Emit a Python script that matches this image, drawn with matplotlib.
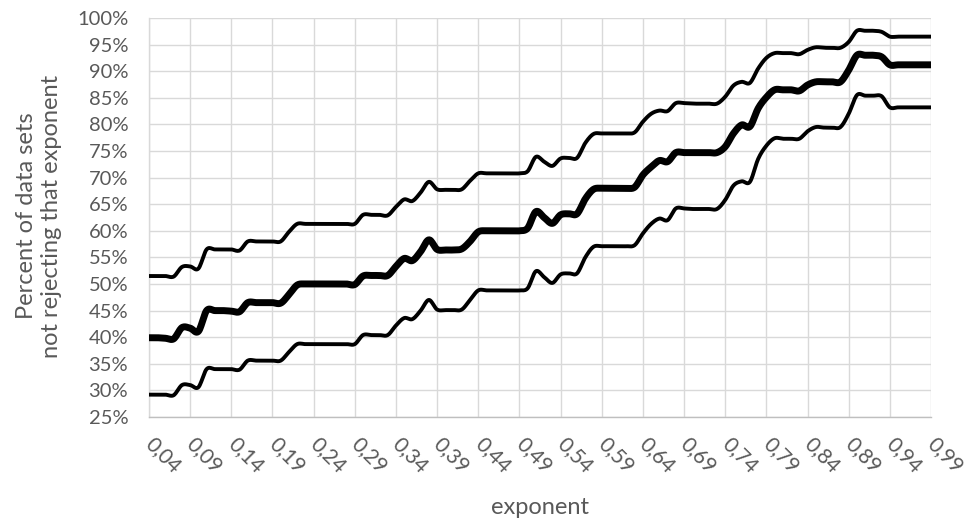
import numpy as np
import matplotlib
matplotlib.use("Agg")
import matplotlib.pyplot as plt

# exponent values 0.04 ... 0.99
exponents = [round(0.04 + 0.01 * i, 2) for i in range(96)]

upper = [51.5, 51.5, 51.5, 51.4, 53.2, 53.3, 52.9, 56.5, 56.5, 56.5,
         56.5, 56.3, 58.0, 58.0, 58.0, 58.0, 58.0, 59.8, 61.3, 61.3,
         61.3, 61.3, 61.3, 61.3, 61.3, 61.3, 63.0, 63.0, 63.0, 62.9,
         64.5, 65.9, 65.6, 67.2, 69.2, 67.8, 67.7, 67.7, 67.8, 69.4,
         70.8, 70.8, 70.8, 70.8, 70.8, 70.8, 71.2, 73.9, 73.0, 72.2,
         73.6, 73.7, 73.7, 76.5, 78.2, 78.3, 78.3, 78.3, 78.3, 78.5,
         80.5, 82.0, 82.6, 82.5, 84.0, 84.0, 83.9, 83.9, 83.9, 83.9,
         85.2, 87.3, 88.0, 87.8, 90.5, 92.5, 93.4, 93.4, 93.4, 93.2,
         94.0, 94.5, 94.4, 94.4, 94.4, 95.5, 97.6, 97.6, 97.6, 97.4,
         96.5, 96.5, 96.5, 96.5, 96.5, 96.5]

middle = [39.9, 39.9, 39.8, 39.7, 41.8, 41.7, 41.1, 45.0, 45.0, 45.0,
          44.9, 44.8, 46.5, 46.5, 46.5, 46.5, 46.4, 48.0, 49.8, 50.0,
          50.0, 50.0, 50.0, 50.0, 50.0, 49.9, 51.5, 51.6, 51.6, 51.6,
          53.3, 54.8, 54.4, 56.1, 58.3, 56.5, 56.4, 56.4, 56.6, 58.0,
          59.8, 60.0, 60.0, 60.0, 60.0, 60.0, 60.5, 63.6, 62.5, 61.4,
          63.0, 63.2, 63.2, 66.0, 67.8, 68.0, 68.0, 68.0, 68.0, 68.2,
          70.5, 72.0, 73.2, 73.0, 74.7, 74.7, 74.7, 74.7, 74.7, 74.7,
          75.8, 78.3, 79.9, 79.6, 83.0, 85.1, 86.5, 86.5, 86.5, 86.3,
          87.4, 88.0, 88.0, 88.0, 88.0, 90.2, 93.0, 93.0, 93.0, 92.7,
          91.2, 91.2, 91.2, 91.2, 91.2, 91.2]

lower = [29.2, 29.2, 29.2, 29.1, 31.0, 31.0, 30.6, 34.0, 34.0, 34.0,
         34.0, 33.9, 35.6, 35.6, 35.6, 35.6, 35.6, 37.2, 38.7, 38.7,
         38.7, 38.7, 38.7, 38.7, 38.7, 38.7, 40.4, 40.4, 40.4, 40.4,
         42.2, 43.6, 43.4, 45.0, 47.0, 45.2, 45.1, 45.1, 45.2, 47.0,
         48.8, 48.8, 48.8, 48.8, 48.8, 48.8, 49.2, 52.4, 51.3, 50.2,
         51.8, 52.0, 52.0, 55.0, 57.0, 57.1, 57.1, 57.1, 57.1, 57.3,
         59.5, 61.3, 62.3, 62.0, 64.2, 64.2, 64.1, 64.1, 64.1, 64.1,
         65.8, 68.5, 69.3, 69.2, 73.5, 76.0, 77.4, 77.3, 77.3, 77.3,
         78.7, 79.5, 79.4, 79.4, 79.5, 82.0, 85.5, 85.4, 85.4, 85.3,
         83.2, 83.2, 83.2, 83.2, 83.2, 83.2]

tick_labels = ["0,04", "0,09", "0,14", "0,19", "0,24", "0,29", "0,34", "0,39",
               "0,44", "0,49", "0,54", "0,59", "0,64", "0,69", "0,74", "0,79",
               "0,84", "0,89", "0,94", "0,99"]
y_ticks = list(range(25, 101, 5))


def smooth(x, y, n=12):
    """Excel-like smoothed line: cubic Bezier through all points."""
    x = np.asarray(x, float)
    y = np.asarray(y, float)
    P = np.column_stack([x, y])
    out = []
    t = np.linspace(0, 1, n, endpoint=False)[:, None]
    for i in range(len(P) - 1):
        p0 = P[i]
        p3 = P[i + 1]
        pm = P[i - 1] if i > 0 else P[i]
        pp = P[i + 2] if i + 2 < len(P) else P[i + 1]
        c1 = p0 + (p3 - pm) / 6.0
        c2 = p3 - (pp - p0) / 6.0
        seg = ((1 - t) ** 3) * p0 + 3 * ((1 - t) ** 2) * t * c1 + 3 * (1 - t) * t ** 2 * c2 + t ** 3 * p3
        out.append(seg)
    out.append(P[-1][None, :])
    out = np.vstack(out)
    return out[:, 0], out[:, 1]


plt.rcParams['font.family'] = ['Lato', 'DejaVu Sans']

fig = plt.figure(figsize=(9.72, 5.21), dpi=100)
ax = fig.add_axes([149 / 972, 1 - 417 / 521, (931 - 149) / 972, (417 - 18) / 521])

for series, lw in ((upper, 2.8), (middle, 5.0), (lower, 2.8)):
    sx, sy = smooth(exponents, series)
    ax.plot(sx, sy, color='black', lw=lw, solid_capstyle='butt',
            solid_joinstyle='round', zorder=3)

ax.set_xlim(0.04, 0.99)
ax.set_ylim(25, 100)
ax.set_xticks(exponents[::5])
ax.set_xticklabels(tick_labels, rotation=-45, ha='left', va='center',
                   rotation_mode='anchor', fontsize=15, color='#595959')
ax.set_yticks(y_ticks)
ax.set_yticklabels([f"{v}%" for v in y_ticks], fontsize=14.5, color='#595959')
ax.tick_params(axis='both', length=0)
ax.tick_params(axis='x', pad=17)
ax.tick_params(axis='y', pad=15)
ax.grid(True, color='#d9d9d9', lw=1.0, zorder=0)
ax.set_axisbelow(True)
for s in ('top', 'right'):
    ax.spines[s].set_visible(False)
ax.spines['left'].set_color('#d9d9d9')
ax.spines['bottom'].set_color('#bfbfbf')
ax.spines['bottom'].set_linewidth(1.0)
ax.spines['left'].set_linewidth(1.0)

ax.set_xlabel("exponent", fontsize=17, color='#595959', va='center')
ax.xaxis.set_label_coords(0.5, (417 - 507) / 399)
ax.set_ylabel("Percent of data sets\nnot rejecting that exponent", fontsize=17,
              color='#595959', linespacing=1.2, va='center')
ax.yaxis.set_label_coords((39 - 149) / 782, (417 - 216) / 399)

fig.savefig("out.png", dpi=100)
